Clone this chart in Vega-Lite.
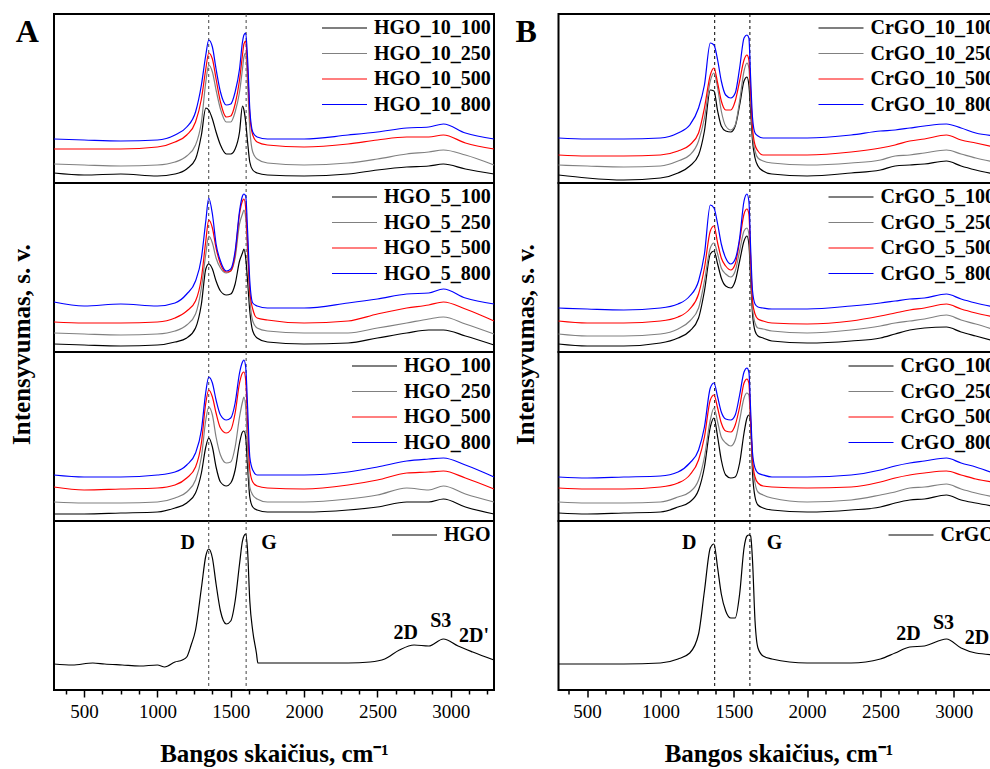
{
"$schema":"https://vega.github.io/schema/vega-lite/v6.json",
"autosize":{"type":"pad"},
"padding":{"left":8,"top":12,"right":0,"bottom":0},
"background":"white",
"config":{"font":"Liberation Serif","view":{"stroke":"#000","strokeWidth":2},
"line":{"interpolate":"monotone","strokeWidth":1.2},
"axis":{"grid":false,"labelFont":"Liberation Serif","titleFont":"Liberation Serif","labelColor":"#000","titleColor":"#000","tickColor":"#000","titleFontWeight":"bold"},
"legend":{"orient":"top-right","offset":3,"padding":0,"symbolType":"stroke","symbolSize":2025,"symbolStrokeWidth":1.5,"labelFont":"Liberation Serif","labelFontSize":20,"labelFontWeight":"bold","labelColor":"#000","clipHeight":22,"rowPadding":3.5,"labelOffset":6,"labelLimit":400}},
"datasets":{
"A1":[
{"s":"HGO_10_100","x":295,"y":10},{"s":"HGO_10_100","x":500,"y":8},{"s":"HGO_10_100","x":750,"y":9},{"s":"HGO_10_100","x":1000,"y":7},{"s":"HGO_10_100","x":1120,"y":9},{"s":"HGO_10_100","x":1200,"y":14},{"s":"HGO_10_100","x":1260,"y":24},{"s":"HGO_10_100","x":1300,"y":48},{"s":"HGO_10_100","x":1330,"y":75},{"s":"HGO_10_100","x":1350,"y":73},{"s":"HGO_10_100","x":1375,"y":64},{"s":"HGO_10_100","x":1400,"y":51},{"s":"HGO_10_100","x":1430,"y":38},{"s":"HGO_10_100","x":1470,"y":29},{"s":"HGO_10_100","x":1500,"y":29},{"s":"HGO_10_100","x":1530,"y":34},{"s":"HGO_10_100","x":1560,"y":51},{"s":"HGO_10_100","x":1580,"y":77},{"s":"HGO_10_100","x":1590,"y":73},{"s":"HGO_10_100","x":1602,"y":61},{"s":"HGO_10_100","x":1615,"y":41},{"s":"HGO_10_100","x":1630,"y":21},{"s":"HGO_10_100","x":1650,"y":13},{"s":"HGO_10_100","x":1680,"y":10},{"s":"HGO_10_100","x":1750,"y":8},{"s":"HGO_10_100","x":2000,"y":7},{"s":"HGO_10_100","x":2300,"y":9},{"s":"HGO_10_100","x":2500,"y":13},{"s":"HGO_10_100","x":2700,"y":16},{"s":"HGO_10_100","x":2850,"y":17},{"s":"HGO_10_100","x":2950,"y":19},{"s":"HGO_10_100","x":3100,"y":14},{"s":"HGO_10_100","x":3295,"y":9},
{"s":"HGO_10_250","x":295,"y":19},{"s":"HGO_10_250","x":500,"y":18},{"s":"HGO_10_250","x":750,"y":17},{"s":"HGO_10_250","x":1000,"y":18},{"s":"HGO_10_250","x":1120,"y":21},{"s":"HGO_10_250","x":1200,"y":27},{"s":"HGO_10_250","x":1260,"y":38},{"s":"HGO_10_250","x":1300,"y":61},{"s":"HGO_10_250","x":1330,"y":101},{"s":"HGO_10_250","x":1350,"y":118},{"s":"HGO_10_250","x":1375,"y":111},{"s":"HGO_10_250","x":1400,"y":93},{"s":"HGO_10_250","x":1430,"y":74},{"s":"HGO_10_250","x":1470,"y":61},{"s":"HGO_10_250","x":1500,"y":61},{"s":"HGO_10_250","x":1530,"y":71},{"s":"HGO_10_250","x":1560,"y":91},{"s":"HGO_10_250","x":1580,"y":114},{"s":"HGO_10_250","x":1590,"y":126},{"s":"HGO_10_250","x":1602,"y":130},{"s":"HGO_10_250","x":1615,"y":98},{"s":"HGO_10_250","x":1630,"y":54},{"s":"HGO_10_250","x":1650,"y":31},{"s":"HGO_10_250","x":1680,"y":24},{"s":"HGO_10_250","x":1750,"y":20},{"s":"HGO_10_250","x":2000,"y":18},{"s":"HGO_10_250","x":2300,"y":20},{"s":"HGO_10_250","x":2500,"y":24},{"s":"HGO_10_250","x":2700,"y":29},{"s":"HGO_10_250","x":2850,"y":31},{"s":"HGO_10_250","x":2950,"y":33},{"s":"HGO_10_250","x":3100,"y":28},{"s":"HGO_10_250","x":3295,"y":18},
{"s":"HGO_10_500","x":295,"y":34},{"s":"HGO_10_500","x":500,"y":34},{"s":"HGO_10_500","x":750,"y":34},{"s":"HGO_10_500","x":1000,"y":36},{"s":"HGO_10_500","x":1120,"y":41},{"s":"HGO_10_500","x":1200,"y":48},{"s":"HGO_10_500","x":1260,"y":61},{"s":"HGO_10_500","x":1300,"y":84},{"s":"HGO_10_500","x":1330,"y":114},{"s":"HGO_10_500","x":1350,"y":130},{"s":"HGO_10_500","x":1375,"y":124},{"s":"HGO_10_500","x":1400,"y":104},{"s":"HGO_10_500","x":1430,"y":81},{"s":"HGO_10_500","x":1470,"y":66},{"s":"HGO_10_500","x":1500,"y":67},{"s":"HGO_10_500","x":1530,"y":79},{"s":"HGO_10_500","x":1560,"y":103},{"s":"HGO_10_500","x":1580,"y":128},{"s":"HGO_10_500","x":1590,"y":139},{"s":"HGO_10_500","x":1602,"y":142},{"s":"HGO_10_500","x":1615,"y":114},{"s":"HGO_10_500","x":1630,"y":68},{"s":"HGO_10_500","x":1650,"y":48},{"s":"HGO_10_500","x":1680,"y":41},{"s":"HGO_10_500","x":1750,"y":38},{"s":"HGO_10_500","x":2000,"y":36},{"s":"HGO_10_500","x":2300,"y":39},{"s":"HGO_10_500","x":2500,"y":43},{"s":"HGO_10_500","x":2700,"y":46},{"s":"HGO_10_500","x":2850,"y":46},{"s":"HGO_10_500","x":2950,"y":48},{"s":"HGO_10_500","x":3100,"y":40},{"s":"HGO_10_500","x":3295,"y":34},
{"s":"HGO_10_800","x":295,"y":44},{"s":"HGO_10_800","x":500,"y":43},{"s":"HGO_10_800","x":750,"y":42},{"s":"HGO_10_800","x":1000,"y":43},{"s":"HGO_10_800","x":1120,"y":48},{"s":"HGO_10_800","x":1200,"y":56},{"s":"HGO_10_800","x":1260,"y":71},{"s":"HGO_10_800","x":1300,"y":98},{"s":"HGO_10_800","x":1330,"y":128},{"s":"HGO_10_800","x":1350,"y":143},{"s":"HGO_10_800","x":1375,"y":136},{"s":"HGO_10_800","x":1400,"y":114},{"s":"HGO_10_800","x":1430,"y":91},{"s":"HGO_10_800","x":1470,"y":78},{"s":"HGO_10_800","x":1500,"y":79},{"s":"HGO_10_800","x":1530,"y":91},{"s":"HGO_10_800","x":1560,"y":114},{"s":"HGO_10_800","x":1580,"y":141},{"s":"HGO_10_800","x":1590,"y":148},{"s":"HGO_10_800","x":1602,"y":150},{"s":"HGO_10_800","x":1615,"y":124},{"s":"HGO_10_800","x":1630,"y":74},{"s":"HGO_10_800","x":1650,"y":51},{"s":"HGO_10_800","x":1680,"y":46},{"s":"HGO_10_800","x":1750,"y":44},{"s":"HGO_10_800","x":2000,"y":44},{"s":"HGO_10_800","x":2300,"y":48},{"s":"HGO_10_800","x":2500,"y":51},{"s":"HGO_10_800","x":2700,"y":55},{"s":"HGO_10_800","x":2850,"y":56},{"s":"HGO_10_800","x":2950,"y":59},{"s":"HGO_10_800","x":3100,"y":50},{"s":"HGO_10_800","x":3295,"y":44}
],
"A2":[
{"s":"HGO_5_100","x":295,"y":8},{"s":"HGO_5_100","x":500,"y":7},{"s":"HGO_5_100","x":750,"y":6},{"s":"HGO_5_100","x":1000,"y":7},{"s":"HGO_5_100","x":1120,"y":10},{"s":"HGO_5_100","x":1200,"y":14},{"s":"HGO_5_100","x":1260,"y":24},{"s":"HGO_5_100","x":1300,"y":48},{"s":"HGO_5_100","x":1330,"y":83},{"s":"HGO_5_100","x":1350,"y":88},{"s":"HGO_5_100","x":1375,"y":83},{"s":"HGO_5_100","x":1400,"y":71},{"s":"HGO_5_100","x":1430,"y":61},{"s":"HGO_5_100","x":1470,"y":57},{"s":"HGO_5_100","x":1500,"y":58},{"s":"HGO_5_100","x":1530,"y":68},{"s":"HGO_5_100","x":1560,"y":91},{"s":"HGO_5_100","x":1580,"y":99},{"s":"HGO_5_100","x":1590,"y":103},{"s":"HGO_5_100","x":1602,"y":94},{"s":"HGO_5_100","x":1615,"y":71},{"s":"HGO_5_100","x":1630,"y":41},{"s":"HGO_5_100","x":1650,"y":21},{"s":"HGO_5_100","x":1680,"y":14},{"s":"HGO_5_100","x":1750,"y":10},{"s":"HGO_5_100","x":2000,"y":8},{"s":"HGO_5_100","x":2300,"y":9},{"s":"HGO_5_100","x":2500,"y":14},{"s":"HGO_5_100","x":2700,"y":19},{"s":"HGO_5_100","x":2850,"y":22},{"s":"HGO_5_100","x":2950,"y":22},{"s":"HGO_5_100","x":3100,"y":16},{"s":"HGO_5_100","x":3295,"y":7},
{"s":"HGO_5_250","x":295,"y":19},{"s":"HGO_5_250","x":500,"y":18},{"s":"HGO_5_250","x":750,"y":17},{"s":"HGO_5_250","x":1000,"y":18},{"s":"HGO_5_250","x":1120,"y":21},{"s":"HGO_5_250","x":1200,"y":27},{"s":"HGO_5_250","x":1260,"y":38},{"s":"HGO_5_250","x":1300,"y":64},{"s":"HGO_5_250","x":1330,"y":98},{"s":"HGO_5_250","x":1350,"y":116},{"s":"HGO_5_250","x":1375,"y":109},{"s":"HGO_5_250","x":1400,"y":94},{"s":"HGO_5_250","x":1430,"y":84},{"s":"HGO_5_250","x":1470,"y":79},{"s":"HGO_5_250","x":1500,"y":81},{"s":"HGO_5_250","x":1530,"y":94},{"s":"HGO_5_250","x":1560,"y":128},{"s":"HGO_5_250","x":1580,"y":138},{"s":"HGO_5_250","x":1590,"y":142},{"s":"HGO_5_250","x":1602,"y":134},{"s":"HGO_5_250","x":1615,"y":98},{"s":"HGO_5_250","x":1630,"y":54},{"s":"HGO_5_250","x":1650,"y":31},{"s":"HGO_5_250","x":1680,"y":24},{"s":"HGO_5_250","x":1750,"y":21},{"s":"HGO_5_250","x":2000,"y":19},{"s":"HGO_5_250","x":2300,"y":19},{"s":"HGO_5_250","x":2500,"y":24},{"s":"HGO_5_250","x":2700,"y":29},{"s":"HGO_5_250","x":2850,"y":33},{"s":"HGO_5_250","x":2950,"y":35},{"s":"HGO_5_250","x":3100,"y":28},{"s":"HGO_5_250","x":3295,"y":18},
{"s":"HGO_5_500","x":295,"y":30},{"s":"HGO_5_500","x":500,"y":29},{"s":"HGO_5_500","x":750,"y":29},{"s":"HGO_5_500","x":1000,"y":30},{"s":"HGO_5_500","x":1120,"y":34},{"s":"HGO_5_500","x":1200,"y":41},{"s":"HGO_5_500","x":1260,"y":51},{"s":"HGO_5_500","x":1300,"y":74},{"s":"HGO_5_500","x":1330,"y":111},{"s":"HGO_5_500","x":1350,"y":132},{"s":"HGO_5_500","x":1375,"y":124},{"s":"HGO_5_500","x":1400,"y":104},{"s":"HGO_5_500","x":1430,"y":88},{"s":"HGO_5_500","x":1470,"y":80},{"s":"HGO_5_500","x":1500,"y":81},{"s":"HGO_5_500","x":1530,"y":98},{"s":"HGO_5_500","x":1560,"y":138},{"s":"HGO_5_500","x":1580,"y":151},{"s":"HGO_5_500","x":1590,"y":153},{"s":"HGO_5_500","x":1602,"y":144},{"s":"HGO_5_500","x":1615,"y":108},{"s":"HGO_5_500","x":1630,"y":61},{"s":"HGO_5_500","x":1650,"y":43},{"s":"HGO_5_500","x":1680,"y":34},{"s":"HGO_5_500","x":1750,"y":32},{"s":"HGO_5_500","x":2000,"y":29},{"s":"HGO_5_500","x":2300,"y":31},{"s":"HGO_5_500","x":2500,"y":38},{"s":"HGO_5_500","x":2700,"y":44},{"s":"HGO_5_500","x":2850,"y":47},{"s":"HGO_5_500","x":2950,"y":50},{"s":"HGO_5_500","x":3100,"y":43},{"s":"HGO_5_500","x":3295,"y":31},
{"s":"HGO_5_800","x":295,"y":50},{"s":"HGO_5_800","x":500,"y":46},{"s":"HGO_5_800","x":750,"y":48},{"s":"HGO_5_800","x":1000,"y":46},{"s":"HGO_5_800","x":1120,"y":49},{"s":"HGO_5_800","x":1200,"y":58},{"s":"HGO_5_800","x":1260,"y":71},{"s":"HGO_5_800","x":1300,"y":94},{"s":"HGO_5_800","x":1330,"y":131},{"s":"HGO_5_800","x":1350,"y":154},{"s":"HGO_5_800","x":1375,"y":138},{"s":"HGO_5_800","x":1400,"y":108},{"s":"HGO_5_800","x":1430,"y":91},{"s":"HGO_5_800","x":1470,"y":81},{"s":"HGO_5_800","x":1500,"y":83},{"s":"HGO_5_800","x":1530,"y":101},{"s":"HGO_5_800","x":1560,"y":141},{"s":"HGO_5_800","x":1580,"y":156},{"s":"HGO_5_800","x":1590,"y":158},{"s":"HGO_5_800","x":1602,"y":156},{"s":"HGO_5_800","x":1615,"y":121},{"s":"HGO_5_800","x":1630,"y":71},{"s":"HGO_5_800","x":1650,"y":49},{"s":"HGO_5_800","x":1680,"y":46},{"s":"HGO_5_800","x":1750,"y":44},{"s":"HGO_5_800","x":2000,"y":44},{"s":"HGO_5_800","x":2300,"y":49},{"s":"HGO_5_800","x":2500,"y":53},{"s":"HGO_5_800","x":2700,"y":58},{"s":"HGO_5_800","x":2850,"y":59},{"s":"HGO_5_800","x":2950,"y":63},{"s":"HGO_5_800","x":3100,"y":54},{"s":"HGO_5_800","x":3295,"y":48}
],
"A3":[
{"s":"HGO_100","x":295,"y":7},{"s":"HGO_100","x":500,"y":7},{"s":"HGO_100","x":750,"y":8},{"s":"HGO_100","x":1000,"y":9},{"s":"HGO_100","x":1120,"y":13},{"s":"HGO_100","x":1200,"y":18},{"s":"HGO_100","x":1260,"y":28},{"s":"HGO_100","x":1300,"y":48},{"s":"HGO_100","x":1330,"y":74},{"s":"HGO_100","x":1350,"y":83},{"s":"HGO_100","x":1375,"y":74},{"s":"HGO_100","x":1400,"y":54},{"s":"HGO_100","x":1430,"y":39},{"s":"HGO_100","x":1470,"y":35},{"s":"HGO_100","x":1500,"y":38},{"s":"HGO_100","x":1530,"y":51},{"s":"HGO_100","x":1560,"y":78},{"s":"HGO_100","x":1580,"y":89},{"s":"HGO_100","x":1590,"y":90},{"s":"HGO_100","x":1602,"y":84},{"s":"HGO_100","x":1615,"y":54},{"s":"HGO_100","x":1630,"y":24},{"s":"HGO_100","x":1650,"y":14},{"s":"HGO_100","x":1680,"y":11},{"s":"HGO_100","x":1750,"y":9},{"s":"HGO_100","x":2000,"y":9},{"s":"HGO_100","x":2300,"y":11},{"s":"HGO_100","x":2500,"y":14},{"s":"HGO_100","x":2700,"y":19},{"s":"HGO_100","x":2850,"y":19},{"s":"HGO_100","x":2950,"y":22},{"s":"HGO_100","x":3100,"y":14},{"s":"HGO_100","x":3295,"y":7},
{"s":"HGO_250","x":295,"y":19},{"s":"HGO_250","x":500,"y":18},{"s":"HGO_250","x":750,"y":18},{"s":"HGO_250","x":1000,"y":19},{"s":"HGO_250","x":1120,"y":23},{"s":"HGO_250","x":1200,"y":29},{"s":"HGO_250","x":1260,"y":41},{"s":"HGO_250","x":1300,"y":64},{"s":"HGO_250","x":1330,"y":101},{"s":"HGO_250","x":1350,"y":114},{"s":"HGO_250","x":1375,"y":106},{"s":"HGO_250","x":1400,"y":84},{"s":"HGO_250","x":1430,"y":66},{"s":"HGO_250","x":1470,"y":58},{"s":"HGO_250","x":1500,"y":59},{"s":"HGO_250","x":1530,"y":74},{"s":"HGO_250","x":1560,"y":104},{"s":"HGO_250","x":1580,"y":119},{"s":"HGO_250","x":1590,"y":124},{"s":"HGO_250","x":1602,"y":114},{"s":"HGO_250","x":1615,"y":71},{"s":"HGO_250","x":1630,"y":34},{"s":"HGO_250","x":1650,"y":26},{"s":"HGO_250","x":1680,"y":22},{"s":"HGO_250","x":1750,"y":19},{"s":"HGO_250","x":2000,"y":19},{"s":"HGO_250","x":2300,"y":22},{"s":"HGO_250","x":2500,"y":26},{"s":"HGO_250","x":2700,"y":33},{"s":"HGO_250","x":2850,"y":31},{"s":"HGO_250","x":2950,"y":35},{"s":"HGO_250","x":3100,"y":27},{"s":"HGO_250","x":3295,"y":19},
{"s":"HGO_500","x":295,"y":34},{"s":"HGO_500","x":500,"y":31},{"s":"HGO_500","x":750,"y":32},{"s":"HGO_500","x":1000,"y":33},{"s":"HGO_500","x":1120,"y":36},{"s":"HGO_500","x":1200,"y":43},{"s":"HGO_500","x":1260,"y":54},{"s":"HGO_500","x":1300,"y":78},{"s":"HGO_500","x":1330,"y":118},{"s":"HGO_500","x":1350,"y":131},{"s":"HGO_500","x":1375,"y":124},{"s":"HGO_500","x":1400,"y":108},{"s":"HGO_500","x":1430,"y":93},{"s":"HGO_500","x":1470,"y":88},{"s":"HGO_500","x":1500,"y":91},{"s":"HGO_500","x":1530,"y":108},{"s":"HGO_500","x":1560,"y":138},{"s":"HGO_500","x":1580,"y":148},{"s":"HGO_500","x":1590,"y":149},{"s":"HGO_500","x":1602,"y":141},{"s":"HGO_500","x":1615,"y":98},{"s":"HGO_500","x":1630,"y":51},{"s":"HGO_500","x":1650,"y":39},{"s":"HGO_500","x":1680,"y":35},{"s":"HGO_500","x":1750,"y":33},{"s":"HGO_500","x":2000,"y":32},{"s":"HGO_500","x":2300,"y":36},{"s":"HGO_500","x":2500,"y":41},{"s":"HGO_500","x":2700,"y":48},{"s":"HGO_500","x":2850,"y":49},{"s":"HGO_500","x":2950,"y":50},{"s":"HGO_500","x":3100,"y":43},{"s":"HGO_500","x":3295,"y":32},
{"s":"HGO_800","x":295,"y":46},{"s":"HGO_800","x":500,"y":44},{"s":"HGO_800","x":750,"y":44},{"s":"HGO_800","x":1000,"y":46},{"s":"HGO_800","x":1120,"y":49},{"s":"HGO_800","x":1200,"y":56},{"s":"HGO_800","x":1260,"y":68},{"s":"HGO_800","x":1300,"y":91},{"s":"HGO_800","x":1330,"y":129},{"s":"HGO_800","x":1350,"y":144},{"s":"HGO_800","x":1375,"y":138},{"s":"HGO_800","x":1400,"y":121},{"s":"HGO_800","x":1430,"y":106},{"s":"HGO_800","x":1470,"y":101},{"s":"HGO_800","x":1500,"y":103},{"s":"HGO_800","x":1530,"y":118},{"s":"HGO_800","x":1560,"y":148},{"s":"HGO_800","x":1580,"y":159},{"s":"HGO_800","x":1590,"y":161},{"s":"HGO_800","x":1602,"y":154},{"s":"HGO_800","x":1615,"y":114},{"s":"HGO_800","x":1630,"y":64},{"s":"HGO_800","x":1650,"y":51},{"s":"HGO_800","x":1680,"y":46},{"s":"HGO_800","x":1750,"y":46},{"s":"HGO_800","x":2000,"y":46},{"s":"HGO_800","x":2300,"y":49},{"s":"HGO_800","x":2500,"y":54},{"s":"HGO_800","x":2700,"y":60},{"s":"HGO_800","x":2850,"y":62},{"s":"HGO_800","x":2950,"y":63},{"s":"HGO_800","x":3100,"y":56},{"s":"HGO_800","x":3295,"y":44}
],
"A4":[
{"s":"HGO","x":295,"y":26},{"s":"HGO","x":420,"y":25},{"s":"HGO","x":560,"y":27},{"s":"HGO","x":640,"y":26},{"s":"HGO","x":760,"y":25},{"s":"HGO","x":880,"y":24},{"s":"HGO","x":1000,"y":25},{"s":"HGO","x":1050,"y":23},{"s":"HGO","x":1120,"y":28},{"s":"HGO","x":1170,"y":30},{"s":"HGO","x":1200,"y":33},{"s":"HGO","x":1230,"y":45},{"s":"HGO","x":1260,"y":60},{"s":"HGO","x":1300,"y":102},{"s":"HGO","x":1330,"y":134},{"s":"HGO","x":1350,"y":141},{"s":"HGO","x":1375,"y":132},{"s":"HGO","x":1400,"y":106},{"s":"HGO","x":1430,"y":79},{"s":"HGO","x":1470,"y":66},{"s":"HGO","x":1500,"y":69},{"s":"HGO","x":1530,"y":89},{"s":"HGO","x":1560,"y":126},{"s":"HGO","x":1580,"y":149},{"s":"HGO","x":1590,"y":154},{"s":"HGO","x":1602,"y":156},{"s":"HGO","x":1615,"y":139},{"s":"HGO","x":1630,"y":89},{"s":"HGO","x":1650,"y":59},{"s":"HGO","x":1675,"y":37},{"s":"HGO","x":1685,"y":27},{"s":"HGO","x":1750,"y":27},{"s":"HGO","x":2000,"y":27},{"s":"HGO","x":2300,"y":27},{"s":"HGO","x":2450,"y":28},{"s":"HGO","x":2550,"y":31},{"s":"HGO","x":2650,"y":40},{"s":"HGO","x":2750,"y":45},{"s":"HGO","x":2850,"y":44},{"s":"HGO","x":2950,"y":51},{"s":"HGO","x":3050,"y":44},{"s":"HGO","x":3150,"y":38},{"s":"HGO","x":3295,"y":30}
],
"B1":[
{"s":"CrGO_10_100","x":305,"y":8},{"s":"CrGO_10_100","x":500,"y":5},{"s":"CrGO_10_100","x":750,"y":3},{"s":"CrGO_10_100","x":1000,"y":5},{"s":"CrGO_10_100","x":1120,"y":10},{"s":"CrGO_10_100","x":1200,"y":17},{"s":"CrGO_10_100","x":1260,"y":28},{"s":"CrGO_10_100","x":1300,"y":52},{"s":"CrGO_10_100","x":1340,"y":93},{"s":"CrGO_10_100","x":1365,"y":92},{"s":"CrGO_10_100","x":1390,"y":72},{"s":"CrGO_10_100","x":1415,"y":57},{"s":"CrGO_10_100","x":1445,"y":52},{"s":"CrGO_10_100","x":1480,"y":51},{"s":"CrGO_10_100","x":1510,"y":57},{"s":"CrGO_10_100","x":1540,"y":78},{"s":"CrGO_10_100","x":1570,"y":102},{"s":"CrGO_10_100","x":1590,"y":106},{"s":"CrGO_10_100","x":1603,"y":98},{"s":"CrGO_10_100","x":1615,"y":72},{"s":"CrGO_10_100","x":1628,"y":42},{"s":"CrGO_10_100","x":1645,"y":25},{"s":"CrGO_10_100","x":1665,"y":17},{"s":"CrGO_10_100","x":1700,"y":12},{"s":"CrGO_10_100","x":1760,"y":9},{"s":"CrGO_10_100","x":2000,"y":7},{"s":"CrGO_10_100","x":2300,"y":10},{"s":"CrGO_10_100","x":2500,"y":13},{"s":"CrGO_10_100","x":2600,"y":17},{"s":"CrGO_10_100","x":2700,"y":18},{"s":"CrGO_10_100","x":2800,"y":19},{"s":"CrGO_10_100","x":2950,"y":22},{"s":"CrGO_10_100","x":3050,"y":17},{"s":"CrGO_10_100","x":3150,"y":13},{"s":"CrGO_10_100","x":3305,"y":8},
{"s":"CrGO_10_250","x":305,"y":18},{"s":"CrGO_10_250","x":500,"y":17},{"s":"CrGO_10_250","x":750,"y":16},{"s":"CrGO_10_250","x":1000,"y":17},{"s":"CrGO_10_250","x":1120,"y":22},{"s":"CrGO_10_250","x":1200,"y":28},{"s":"CrGO_10_250","x":1260,"y":42},{"s":"CrGO_10_250","x":1300,"y":65},{"s":"CrGO_10_250","x":1340,"y":102},{"s":"CrGO_10_250","x":1365,"y":110},{"s":"CrGO_10_250","x":1390,"y":95},{"s":"CrGO_10_250","x":1415,"y":72},{"s":"CrGO_10_250","x":1445,"y":57},{"s":"CrGO_10_250","x":1480,"y":53},{"s":"CrGO_10_250","x":1510,"y":58},{"s":"CrGO_10_250","x":1540,"y":82},{"s":"CrGO_10_250","x":1570,"y":112},{"s":"CrGO_10_250","x":1590,"y":120},{"s":"CrGO_10_250","x":1603,"y":115},{"s":"CrGO_10_250","x":1615,"y":82},{"s":"CrGO_10_250","x":1628,"y":48},{"s":"CrGO_10_250","x":1645,"y":32},{"s":"CrGO_10_250","x":1665,"y":25},{"s":"CrGO_10_250","x":1700,"y":22},{"s":"CrGO_10_250","x":1760,"y":20},{"s":"CrGO_10_250","x":2000,"y":18},{"s":"CrGO_10_250","x":2300,"y":20},{"s":"CrGO_10_250","x":2500,"y":23},{"s":"CrGO_10_250","x":2600,"y":27},{"s":"CrGO_10_250","x":2700,"y":28},{"s":"CrGO_10_250","x":2800,"y":30},{"s":"CrGO_10_250","x":2950,"y":33},{"s":"CrGO_10_250","x":3050,"y":29},{"s":"CrGO_10_250","x":3150,"y":25},{"s":"CrGO_10_250","x":3305,"y":20},
{"s":"CrGO_10_500","x":305,"y":28},{"s":"CrGO_10_500","x":500,"y":27},{"s":"CrGO_10_500","x":750,"y":27},{"s":"CrGO_10_500","x":1000,"y":28},{"s":"CrGO_10_500","x":1120,"y":32},{"s":"CrGO_10_500","x":1200,"y":38},{"s":"CrGO_10_500","x":1260,"y":50},{"s":"CrGO_10_500","x":1300,"y":75},{"s":"CrGO_10_500","x":1340,"y":108},{"s":"CrGO_10_500","x":1365,"y":115},{"s":"CrGO_10_500","x":1390,"y":100},{"s":"CrGO_10_500","x":1415,"y":82},{"s":"CrGO_10_500","x":1445,"y":73},{"s":"CrGO_10_500","x":1480,"y":73},{"s":"CrGO_10_500","x":1510,"y":82},{"s":"CrGO_10_500","x":1540,"y":102},{"s":"CrGO_10_500","x":1570,"y":123},{"s":"CrGO_10_500","x":1590,"y":128},{"s":"CrGO_10_500","x":1603,"y":123},{"s":"CrGO_10_500","x":1615,"y":92},{"s":"CrGO_10_500","x":1628,"y":55},{"s":"CrGO_10_500","x":1645,"y":38},{"s":"CrGO_10_500","x":1665,"y":32},{"s":"CrGO_10_500","x":1700,"y":28},{"s":"CrGO_10_500","x":1760,"y":28},{"s":"CrGO_10_500","x":2000,"y":28},{"s":"CrGO_10_500","x":2300,"y":31},{"s":"CrGO_10_500","x":2500,"y":35},{"s":"CrGO_10_500","x":2600,"y":38},{"s":"CrGO_10_500","x":2700,"y":42},{"s":"CrGO_10_500","x":2800,"y":44},{"s":"CrGO_10_500","x":2950,"y":48},{"s":"CrGO_10_500","x":3050,"y":43},{"s":"CrGO_10_500","x":3150,"y":40},{"s":"CrGO_10_500","x":3305,"y":35},
{"s":"CrGO_10_800","x":305,"y":45},{"s":"CrGO_10_800","x":500,"y":44},{"s":"CrGO_10_800","x":750,"y":44},{"s":"CrGO_10_800","x":1000,"y":45},{"s":"CrGO_10_800","x":1120,"y":50},{"s":"CrGO_10_800","x":1200,"y":58},{"s":"CrGO_10_800","x":1260,"y":75},{"s":"CrGO_10_800","x":1300,"y":98},{"s":"CrGO_10_800","x":1340,"y":140},{"s":"CrGO_10_800","x":1365,"y":138},{"s":"CrGO_10_800","x":1390,"y":123},{"s":"CrGO_10_800","x":1415,"y":102},{"s":"CrGO_10_800","x":1445,"y":88},{"s":"CrGO_10_800","x":1480,"y":85},{"s":"CrGO_10_800","x":1510,"y":90},{"s":"CrGO_10_800","x":1540,"y":115},{"s":"CrGO_10_800","x":1570,"y":145},{"s":"CrGO_10_800","x":1590,"y":148},{"s":"CrGO_10_800","x":1603,"y":145},{"s":"CrGO_10_800","x":1615,"y":105},{"s":"CrGO_10_800","x":1628,"y":65},{"s":"CrGO_10_800","x":1645,"y":50},{"s":"CrGO_10_800","x":1665,"y":47},{"s":"CrGO_10_800","x":1700,"y":45},{"s":"CrGO_10_800","x":1760,"y":45},{"s":"CrGO_10_800","x":2000,"y":45},{"s":"CrGO_10_800","x":2300,"y":48},{"s":"CrGO_10_800","x":2500,"y":52},{"s":"CrGO_10_800","x":2600,"y":53},{"s":"CrGO_10_800","x":2700,"y":55},{"s":"CrGO_10_800","x":2800,"y":57},{"s":"CrGO_10_800","x":2950,"y":59},{"s":"CrGO_10_800","x":3050,"y":55},{"s":"CrGO_10_800","x":3150,"y":50},{"s":"CrGO_10_800","x":3305,"y":47}
],
"B2":[
{"s":"CrGO_5_100","x":305,"y":8},{"s":"CrGO_5_100","x":500,"y":6},{"s":"CrGO_5_100","x":750,"y":6},{"s":"CrGO_5_100","x":1000,"y":9},{"s":"CrGO_5_100","x":1120,"y":14},{"s":"CrGO_5_100","x":1200,"y":21},{"s":"CrGO_5_100","x":1260,"y":34},{"s":"CrGO_5_100","x":1300,"y":61},{"s":"CrGO_5_100","x":1340,"y":98},{"s":"CrGO_5_100","x":1365,"y":101},{"s":"CrGO_5_100","x":1390,"y":88},{"s":"CrGO_5_100","x":1415,"y":74},{"s":"CrGO_5_100","x":1445,"y":66},{"s":"CrGO_5_100","x":1480,"y":64},{"s":"CrGO_5_100","x":1510,"y":71},{"s":"CrGO_5_100","x":1540,"y":91},{"s":"CrGO_5_100","x":1570,"y":111},{"s":"CrGO_5_100","x":1590,"y":116},{"s":"CrGO_5_100","x":1603,"y":108},{"s":"CrGO_5_100","x":1615,"y":74},{"s":"CrGO_5_100","x":1628,"y":38},{"s":"CrGO_5_100","x":1645,"y":21},{"s":"CrGO_5_100","x":1665,"y":16},{"s":"CrGO_5_100","x":1700,"y":14},{"s":"CrGO_5_100","x":1760,"y":11},{"s":"CrGO_5_100","x":2000,"y":9},{"s":"CrGO_5_100","x":2300,"y":11},{"s":"CrGO_5_100","x":2500,"y":14},{"s":"CrGO_5_100","x":2600,"y":18},{"s":"CrGO_5_100","x":2700,"y":22},{"s":"CrGO_5_100","x":2800,"y":24},{"s":"CrGO_5_100","x":2950,"y":25},{"s":"CrGO_5_100","x":3050,"y":20},{"s":"CrGO_5_100","x":3150,"y":16},{"s":"CrGO_5_100","x":3305,"y":10},
{"s":"CrGO_5_250","x":305,"y":18},{"s":"CrGO_5_250","x":500,"y":16},{"s":"CrGO_5_250","x":750,"y":16},{"s":"CrGO_5_250","x":1000,"y":18},{"s":"CrGO_5_250","x":1120,"y":23},{"s":"CrGO_5_250","x":1200,"y":31},{"s":"CrGO_5_250","x":1260,"y":44},{"s":"CrGO_5_250","x":1300,"y":71},{"s":"CrGO_5_250","x":1340,"y":104},{"s":"CrGO_5_250","x":1365,"y":109},{"s":"CrGO_5_250","x":1390,"y":98},{"s":"CrGO_5_250","x":1415,"y":84},{"s":"CrGO_5_250","x":1445,"y":78},{"s":"CrGO_5_250","x":1480,"y":75},{"s":"CrGO_5_250","x":1510,"y":81},{"s":"CrGO_5_250","x":1540,"y":101},{"s":"CrGO_5_250","x":1570,"y":121},{"s":"CrGO_5_250","x":1590,"y":124},{"s":"CrGO_5_250","x":1603,"y":118},{"s":"CrGO_5_250","x":1615,"y":81},{"s":"CrGO_5_250","x":1628,"y":44},{"s":"CrGO_5_250","x":1645,"y":29},{"s":"CrGO_5_250","x":1665,"y":24},{"s":"CrGO_5_250","x":1700,"y":23},{"s":"CrGO_5_250","x":1760,"y":21},{"s":"CrGO_5_250","x":2000,"y":19},{"s":"CrGO_5_250","x":2300,"y":22},{"s":"CrGO_5_250","x":2500,"y":26},{"s":"CrGO_5_250","x":2600,"y":29},{"s":"CrGO_5_250","x":2700,"y":31},{"s":"CrGO_5_250","x":2800,"y":33},{"s":"CrGO_5_250","x":2950,"y":37},{"s":"CrGO_5_250","x":3050,"y":32},{"s":"CrGO_5_250","x":3150,"y":28},{"s":"CrGO_5_250","x":3305,"y":21},
{"s":"CrGO_5_500","x":305,"y":31},{"s":"CrGO_5_500","x":500,"y":29},{"s":"CrGO_5_500","x":750,"y":29},{"s":"CrGO_5_500","x":1000,"y":31},{"s":"CrGO_5_500","x":1120,"y":35},{"s":"CrGO_5_500","x":1200,"y":43},{"s":"CrGO_5_500","x":1260,"y":58},{"s":"CrGO_5_500","x":1300,"y":84},{"s":"CrGO_5_500","x":1340,"y":121},{"s":"CrGO_5_500","x":1365,"y":126},{"s":"CrGO_5_500","x":1390,"y":109},{"s":"CrGO_5_500","x":1415,"y":94},{"s":"CrGO_5_500","x":1445,"y":86},{"s":"CrGO_5_500","x":1480,"y":82},{"s":"CrGO_5_500","x":1510,"y":88},{"s":"CrGO_5_500","x":1540,"y":111},{"s":"CrGO_5_500","x":1570,"y":138},{"s":"CrGO_5_500","x":1590,"y":143},{"s":"CrGO_5_500","x":1603,"y":138},{"s":"CrGO_5_500","x":1615,"y":94},{"s":"CrGO_5_500","x":1628,"y":51},{"s":"CrGO_5_500","x":1645,"y":38},{"s":"CrGO_5_500","x":1665,"y":33},{"s":"CrGO_5_500","x":1700,"y":31},{"s":"CrGO_5_500","x":1760,"y":29},{"s":"CrGO_5_500","x":2000,"y":28},{"s":"CrGO_5_500","x":2300,"y":31},{"s":"CrGO_5_500","x":2500,"y":36},{"s":"CrGO_5_500","x":2600,"y":39},{"s":"CrGO_5_500","x":2700,"y":42},{"s":"CrGO_5_500","x":2800,"y":44},{"s":"CrGO_5_500","x":2950,"y":48},{"s":"CrGO_5_500","x":3050,"y":43},{"s":"CrGO_5_500","x":3150,"y":39},{"s":"CrGO_5_500","x":3305,"y":34},
{"s":"CrGO_5_800","x":305,"y":44},{"s":"CrGO_5_800","x":500,"y":43},{"s":"CrGO_5_800","x":750,"y":42},{"s":"CrGO_5_800","x":1000,"y":44},{"s":"CrGO_5_800","x":1120,"y":48},{"s":"CrGO_5_800","x":1200,"y":56},{"s":"CrGO_5_800","x":1260,"y":71},{"s":"CrGO_5_800","x":1300,"y":98},{"s":"CrGO_5_800","x":1340,"y":147},{"s":"CrGO_5_800","x":1365,"y":144},{"s":"CrGO_5_800","x":1390,"y":128},{"s":"CrGO_5_800","x":1415,"y":108},{"s":"CrGO_5_800","x":1445,"y":94},{"s":"CrGO_5_800","x":1480,"y":88},{"s":"CrGO_5_800","x":1510,"y":93},{"s":"CrGO_5_800","x":1540,"y":114},{"s":"CrGO_5_800","x":1570,"y":151},{"s":"CrGO_5_800","x":1590,"y":158},{"s":"CrGO_5_800","x":1603,"y":151},{"s":"CrGO_5_800","x":1615,"y":104},{"s":"CrGO_5_800","x":1628,"y":61},{"s":"CrGO_5_800","x":1645,"y":48},{"s":"CrGO_5_800","x":1665,"y":45},{"s":"CrGO_5_800","x":1700,"y":44},{"s":"CrGO_5_800","x":1760,"y":43},{"s":"CrGO_5_800","x":2000,"y":43},{"s":"CrGO_5_800","x":2300,"y":46},{"s":"CrGO_5_800","x":2500,"y":49},{"s":"CrGO_5_800","x":2600,"y":51},{"s":"CrGO_5_800","x":2700,"y":53},{"s":"CrGO_5_800","x":2800,"y":54},{"s":"CrGO_5_800","x":2950,"y":58},{"s":"CrGO_5_800","x":3050,"y":53},{"s":"CrGO_5_800","x":3150,"y":49},{"s":"CrGO_5_800","x":3305,"y":44}
],
"B3":[
{"s":"CrGO_100","x":305,"y":8},{"s":"CrGO_100","x":500,"y":7},{"s":"CrGO_100","x":750,"y":8},{"s":"CrGO_100","x":1000,"y":9},{"s":"CrGO_100","x":1120,"y":14},{"s":"CrGO_100","x":1200,"y":19},{"s":"CrGO_100","x":1260,"y":31},{"s":"CrGO_100","x":1300,"y":54},{"s":"CrGO_100","x":1340,"y":94},{"s":"CrGO_100","x":1365,"y":103},{"s":"CrGO_100","x":1390,"y":84},{"s":"CrGO_100","x":1415,"y":61},{"s":"CrGO_100","x":1445,"y":46},{"s":"CrGO_100","x":1480,"y":43},{"s":"CrGO_100","x":1510,"y":44},{"s":"CrGO_100","x":1540,"y":58},{"s":"CrGO_100","x":1570,"y":88},{"s":"CrGO_100","x":1590,"y":103},{"s":"CrGO_100","x":1603,"y":106},{"s":"CrGO_100","x":1615,"y":98},{"s":"CrGO_100","x":1628,"y":48},{"s":"CrGO_100","x":1645,"y":24},{"s":"CrGO_100","x":1665,"y":16},{"s":"CrGO_100","x":1700,"y":13},{"s":"CrGO_100","x":1760,"y":11},{"s":"CrGO_100","x":2000,"y":9},{"s":"CrGO_100","x":2300,"y":11},{"s":"CrGO_100","x":2500,"y":14},{"s":"CrGO_100","x":2600,"y":18},{"s":"CrGO_100","x":2700,"y":21},{"s":"CrGO_100","x":2800,"y":22},{"s":"CrGO_100","x":2950,"y":26},{"s":"CrGO_100","x":3050,"y":21},{"s":"CrGO_100","x":3150,"y":18},{"s":"CrGO_100","x":3305,"y":14},
{"s":"CrGO_250","x":305,"y":19},{"s":"CrGO_250","x":500,"y":18},{"s":"CrGO_250","x":750,"y":18},{"s":"CrGO_250","x":1000,"y":19},{"s":"CrGO_250","x":1120,"y":24},{"s":"CrGO_250","x":1200,"y":29},{"s":"CrGO_250","x":1260,"y":41},{"s":"CrGO_250","x":1300,"y":64},{"s":"CrGO_250","x":1340,"y":101},{"s":"CrGO_250","x":1365,"y":113},{"s":"CrGO_250","x":1390,"y":99},{"s":"CrGO_250","x":1415,"y":84},{"s":"CrGO_250","x":1445,"y":78},{"s":"CrGO_250","x":1480,"y":75},{"s":"CrGO_250","x":1510,"y":81},{"s":"CrGO_250","x":1540,"y":101},{"s":"CrGO_250","x":1570,"y":123},{"s":"CrGO_250","x":1590,"y":128},{"s":"CrGO_250","x":1603,"y":126},{"s":"CrGO_250","x":1615,"y":98},{"s":"CrGO_250","x":1628,"y":58},{"s":"CrGO_250","x":1645,"y":38},{"s":"CrGO_250","x":1665,"y":29},{"s":"CrGO_250","x":1700,"y":26},{"s":"CrGO_250","x":1760,"y":23},{"s":"CrGO_250","x":2000,"y":19},{"s":"CrGO_250","x":2300,"y":21},{"s":"CrGO_250","x":2500,"y":26},{"s":"CrGO_250","x":2600,"y":29},{"s":"CrGO_250","x":2700,"y":33},{"s":"CrGO_250","x":2800,"y":34},{"s":"CrGO_250","x":2950,"y":37},{"s":"CrGO_250","x":3050,"y":32},{"s":"CrGO_250","x":3150,"y":28},{"s":"CrGO_250","x":3305,"y":23},
{"s":"CrGO_500","x":305,"y":33},{"s":"CrGO_500","x":500,"y":32},{"s":"CrGO_500","x":750,"y":32},{"s":"CrGO_500","x":1000,"y":34},{"s":"CrGO_500","x":1120,"y":38},{"s":"CrGO_500","x":1200,"y":46},{"s":"CrGO_500","x":1260,"y":61},{"s":"CrGO_500","x":1300,"y":84},{"s":"CrGO_500","x":1340,"y":121},{"s":"CrGO_500","x":1365,"y":126},{"s":"CrGO_500","x":1390,"y":113},{"s":"CrGO_500","x":1415,"y":98},{"s":"CrGO_500","x":1445,"y":90},{"s":"CrGO_500","x":1480,"y":89},{"s":"CrGO_500","x":1510,"y":96},{"s":"CrGO_500","x":1540,"y":114},{"s":"CrGO_500","x":1570,"y":138},{"s":"CrGO_500","x":1590,"y":142},{"s":"CrGO_500","x":1603,"y":138},{"s":"CrGO_500","x":1615,"y":101},{"s":"CrGO_500","x":1628,"y":61},{"s":"CrGO_500","x":1645,"y":44},{"s":"CrGO_500","x":1665,"y":38},{"s":"CrGO_500","x":1700,"y":35},{"s":"CrGO_500","x":1760,"y":34},{"s":"CrGO_500","x":2000,"y":33},{"s":"CrGO_500","x":2300,"y":34},{"s":"CrGO_500","x":2500,"y":39},{"s":"CrGO_500","x":2600,"y":43},{"s":"CrGO_500","x":2700,"y":46},{"s":"CrGO_500","x":2800,"y":48},{"s":"CrGO_500","x":2950,"y":50},{"s":"CrGO_500","x":3050,"y":46},{"s":"CrGO_500","x":3150,"y":42},{"s":"CrGO_500","x":3305,"y":38},
{"s":"CrGO_800","x":305,"y":44},{"s":"CrGO_800","x":500,"y":43},{"s":"CrGO_800","x":750,"y":44},{"s":"CrGO_800","x":1000,"y":45},{"s":"CrGO_800","x":1120,"y":49},{"s":"CrGO_800","x":1200,"y":58},{"s":"CrGO_800","x":1260,"y":71},{"s":"CrGO_800","x":1300,"y":94},{"s":"CrGO_800","x":1340,"y":133},{"s":"CrGO_800","x":1365,"y":138},{"s":"CrGO_800","x":1390,"y":124},{"s":"CrGO_800","x":1415,"y":109},{"s":"CrGO_800","x":1445,"y":102},{"s":"CrGO_800","x":1480,"y":101},{"s":"CrGO_800","x":1510,"y":106},{"s":"CrGO_800","x":1540,"y":126},{"s":"CrGO_800","x":1570,"y":149},{"s":"CrGO_800","x":1590,"y":153},{"s":"CrGO_800","x":1603,"y":149},{"s":"CrGO_800","x":1615,"y":111},{"s":"CrGO_800","x":1628,"y":68},{"s":"CrGO_800","x":1645,"y":53},{"s":"CrGO_800","x":1665,"y":48},{"s":"CrGO_800","x":1700,"y":46},{"s":"CrGO_800","x":1760,"y":44},{"s":"CrGO_800","x":2000,"y":44},{"s":"CrGO_800","x":2300,"y":46},{"s":"CrGO_800","x":2500,"y":51},{"s":"CrGO_800","x":2600,"y":55},{"s":"CrGO_800","x":2700,"y":58},{"s":"CrGO_800","x":2800,"y":60},{"s":"CrGO_800","x":2950,"y":63},{"s":"CrGO_800","x":3050,"y":58},{"s":"CrGO_800","x":3150,"y":54},{"s":"CrGO_800","x":3305,"y":46}
],
"B4":[
{"s":"CrGO","x":305,"y":26},{"s":"CrGO","x":500,"y":26},{"s":"CrGO","x":750,"y":26},{"s":"CrGO","x":1000,"y":27},{"s":"CrGO","x":1120,"y":31},{"s":"CrGO","x":1200,"y":37},{"s":"CrGO","x":1260,"y":56},{"s":"CrGO","x":1300,"y":99},{"s":"CrGO","x":1340,"y":142},{"s":"CrGO","x":1365,"y":146},{"s":"CrGO","x":1390,"y":122},{"s":"CrGO","x":1415,"y":96},{"s":"CrGO","x":1445,"y":79},{"s":"CrGO","x":1480,"y":72},{"s":"CrGO","x":1510,"y":72},{"s":"CrGO","x":1540,"y":96},{"s":"CrGO","x":1570,"y":142},{"s":"CrGO","x":1590,"y":154},{"s":"CrGO","x":1603,"y":155},{"s":"CrGO","x":1615,"y":154},{"s":"CrGO","x":1628,"y":129},{"s":"CrGO","x":1645,"y":69},{"s":"CrGO","x":1665,"y":42},{"s":"CrGO","x":1700,"y":34},{"s":"CrGO","x":1760,"y":31},{"s":"CrGO","x":2000,"y":27},{"s":"CrGO","x":2300,"y":27},{"s":"CrGO","x":2500,"y":31},{"s":"CrGO","x":2600,"y":37},{"s":"CrGO","x":2700,"y":43},{"s":"CrGO","x":2800,"y":44},{"s":"CrGO","x":2950,"y":51},{"s":"CrGO","x":3050,"y":42},{"s":"CrGO","x":3150,"y":37},{"s":"CrGO","x":3305,"y":35}
]
},
"hconcat":[
{"vconcat":[
{"width":440,"height":169,
"layer":[
{"data":{"values":[{"x":1350},{"x":1605}]},"mark":{"type":"rule","strokeDash":[3,3],"color":"#444","strokeWidth":1},"encoding":{"x":{"field":"x","type":"quantitative","scale":{"domain":[295,3295],"nice":false},"axis":null}}},
{"data":{"name":"A1"},"mark":{"type":"line"},"encoding":{"x":{"field":"x","type":"quantitative","scale":{"domain":[295,3295],"nice":false},"axis":null},"y":{"field":"y","type":"quantitative","scale":{"domain":[0,169],"nice":false,"zero":false},"axis":null},"color":{"field":"s","type":"nominal","scale":{"domain":["HGO_10_100","HGO_10_250","HGO_10_500","HGO_10_800"],"range":["#000000","#808080","#ff0000","#0000ff"]},"title":null}}},
{"data":{"values":[{"t":"A","x":34,"y":141}]},"mark":{"type":"text","fontSize":32,"fontWeight":"bold","font":"Liberation Serif","color":"#000","baseline":"alphabetic","align":"left"},"encoding":{"x":{"field":"x","type":"quantitative","scale":{"domain":[295,3295],"nice":false},"axis":null},"y":{"field":"y","type":"quantitative","scale":{"domain":[0,169],"nice":false,"zero":false},"axis":null},"text":{"field":"t"}}}
]},
{"width":440,"height":169,
"layer":[
{"data":{"values":[{"x":1350},{"x":1605}]},"mark":{"type":"rule","strokeDash":[3,3],"color":"#444","strokeWidth":1},"encoding":{"x":{"field":"x","type":"quantitative","scale":{"domain":[295,3295],"nice":false},"axis":null}}},
{"data":{"name":"A2"},"mark":{"type":"line"},"encoding":{"x":{"field":"x","type":"quantitative","scale":{"domain":[295,3295],"nice":false},"axis":null},"y":{"field":"y","type":"quantitative","scale":{"domain":[0,169],"nice":false,"zero":false},"axis":{"title":"Intensyvumas, s. v.","labels":false,"ticks":false,"domain":false,"grid":false,"titleX":-33,"titleY":161,"titleAngle":270,"titleBaseline":"middle","titleAlign":"center","titleFontSize":25}},"color":{"field":"s","type":"nominal","scale":{"domain":["HGO_5_100","HGO_5_250","HGO_5_500","HGO_5_800"],"range":["#000000","#808080","#ff0000","#0000ff"]},"title":null}}}
]},
{"width":440,"height":169,
"layer":[
{"data":{"values":[{"x":1350},{"x":1605}]},"mark":{"type":"rule","strokeDash":[3,3],"color":"#444","strokeWidth":1},"encoding":{"x":{"field":"x","type":"quantitative","scale":{"domain":[295,3295],"nice":false},"axis":null}}},
{"data":{"name":"A3"},"mark":{"type":"line"},"encoding":{"x":{"field":"x","type":"quantitative","scale":{"domain":[295,3295],"nice":false},"axis":null},"y":{"field":"y","type":"quantitative","scale":{"domain":[0,169],"nice":false,"zero":false},"axis":null},"color":{"field":"s","type":"nominal","scale":{"domain":["HGO_100","HGO_250","HGO_500","HGO_800"],"range":["#000000","#808080","#ff0000","#0000ff"]},"title":null}}}
]},
{"width":440,"height":169,
"layer":[
{"data":{"values":[{"x":1350},{"x":1605}]},"mark":{"type":"rule","strokeDash":[3,3],"color":"#444","strokeWidth":1},"encoding":{"x":{"field":"x","type":"quantitative","scale":{"domain":[295,3295],"nice":false},"axis":{"orient":"bottom","values":[375,625,750,875,1125,1250,1375,1625,1750,1875,2125,2250,2375,2625,2750,2875,3125,3250],"tickSize":4,"tickWidth":1.5,"labels":false,"domain":false,"title":null,"grid":false}}}},
{"data":{"name":"A4"},"mark":{"type":"line"},"encoding":{"x":{"field":"x","type":"quantitative","scale":{"domain":[295,3295],"nice":false},"axis":{"orient":"bottom","values":[500,1000,1500,2000,2500,3000],"format":"d","tickSize":7,"tickWidth":1.5,"domain":false,"grid":false,"labelFontSize":19,"labelPadding":5,"title":"Bangos skaičius, cm⁻¹","titleFontSize":25,"titlePadding":20}},"y":{"field":"y","type":"quantitative","scale":{"domain":[0,169],"nice":false,"zero":false},"axis":null},"color":{"field":"s","type":"nominal","scale":{"domain":["HGO"],"range":["#000000"]},"title":null}}},
{"data":{"values":[{"t":"D","x":1207,"y":147},{"t":"G","x":1761,"y":147},{"t":"2D","x":2693,"y":57},{"t":"S3","x":2932,"y":69},{"t":"2D'","x":3159,"y":54}]},"mark":{"type":"text","fontSize":20,"fontWeight":"bold","font":"Liberation Serif","color":"#000","baseline":"middle","align":"center"},"encoding":{"x":{"field":"x","type":"quantitative","scale":{"domain":[295,3295],"nice":false},"axis":null},"y":{"field":"y","type":"quantitative","scale":{"domain":[0,169],"nice":false,"zero":false},"axis":null},"text":{"field":"t"}}}
],
"resolve":{"axis":{"x":"independent"}}}
],"spacing":0,"bounds":"flush","resolve":{"scale":{"color":"independent"},"legend":{"color":"independent"}}},
{"vconcat":[
{"width":440,"height":169,
"layer":[
{"data":{"values":[{"x":1370},{"x":1610}]},"mark":{"type":"rule","strokeDash":[3,3],"color":"#000","strokeWidth":1},"encoding":{"x":{"field":"x","type":"quantitative","scale":{"domain":[305,3305],"nice":false},"axis":null}}},
{"data":{"name":"B1"},"mark":{"type":"line"},"encoding":{"x":{"field":"x","type":"quantitative","scale":{"domain":[305,3305],"nice":false},"axis":null},"y":{"field":"y","type":"quantitative","scale":{"domain":[0,169],"nice":false,"zero":false},"axis":null},"color":{"field":"s","type":"nominal","scale":{"domain":["CrGO_10_100","CrGO_10_250","CrGO_10_500","CrGO_10_800"],"range":["#000000","#808080","#ff0000","#0000ff"]},"title":null}}},
{"data":{"values":[{"t":"B","x":12,"y":141}]},"mark":{"type":"text","fontSize":32,"fontWeight":"bold","font":"Liberation Serif","color":"#000","baseline":"alphabetic","align":"left"},"encoding":{"x":{"field":"x","type":"quantitative","scale":{"domain":[305,3305],"nice":false},"axis":null},"y":{"field":"y","type":"quantitative","scale":{"domain":[0,169],"nice":false,"zero":false},"axis":null},"text":{"field":"t"}}}
]},
{"width":440,"height":169,
"layer":[
{"data":{"values":[{"x":1370},{"x":1610}]},"mark":{"type":"rule","strokeDash":[3,3],"color":"#000","strokeWidth":1},"encoding":{"x":{"field":"x","type":"quantitative","scale":{"domain":[305,3305],"nice":false},"axis":null}}},
{"data":{"name":"B2"},"mark":{"type":"line"},"encoding":{"x":{"field":"x","type":"quantitative","scale":{"domain":[305,3305],"nice":false},"axis":null},"y":{"field":"y","type":"quantitative","scale":{"domain":[0,169],"nice":false,"zero":false},"axis":{"title":"Intensyvumas, s. v.","labels":false,"ticks":false,"domain":false,"grid":false,"titleX":-33,"titleY":161,"titleAngle":270,"titleBaseline":"middle","titleAlign":"center","titleFontSize":25}},"color":{"field":"s","type":"nominal","scale":{"domain":["CrGO_5_100","CrGO_5_250","CrGO_5_500","CrGO_5_800"],"range":["#000000","#808080","#ff0000","#0000ff"]},"title":null}}}
]},
{"width":440,"height":169,
"layer":[
{"data":{"values":[{"x":1370},{"x":1610}]},"mark":{"type":"rule","strokeDash":[3,3],"color":"#000","strokeWidth":1},"encoding":{"x":{"field":"x","type":"quantitative","scale":{"domain":[305,3305],"nice":false},"axis":null}}},
{"data":{"name":"B3"},"mark":{"type":"line"},"encoding":{"x":{"field":"x","type":"quantitative","scale":{"domain":[305,3305],"nice":false},"axis":null},"y":{"field":"y","type":"quantitative","scale":{"domain":[0,169],"nice":false,"zero":false},"axis":null},"color":{"field":"s","type":"nominal","scale":{"domain":["CrGO_100","CrGO_250","CrGO_500","CrGO_800"],"range":["#000000","#808080","#ff0000","#0000ff"]},"title":null}}}
]},
{"width":440,"height":169,
"layer":[
{"data":{"values":[{"x":1370},{"x":1610}]},"mark":{"type":"rule","strokeDash":[3,3],"color":"#000","strokeWidth":1},"encoding":{"x":{"field":"x","type":"quantitative","scale":{"domain":[305,3305],"nice":false},"axis":{"orient":"bottom","values":[375,625,750,875,1125,1250,1375,1625,1750,1875,2125,2250,2375,2625,2750,2875,3125,3250],"tickSize":4,"tickWidth":1.5,"labels":false,"domain":false,"title":null,"grid":false}}}},
{"data":{"name":"B4"},"mark":{"type":"line"},"encoding":{"x":{"field":"x","type":"quantitative","scale":{"domain":[305,3305],"nice":false},"axis":{"orient":"bottom","values":[500,1000,1500,2000,2500,3000],"format":"d","tickSize":7,"tickWidth":1.5,"domain":false,"grid":false,"labelFontSize":19,"labelPadding":5,"title":"Bangos skaičius, cm⁻¹","titleFontSize":25,"titlePadding":20}},"y":{"field":"y","type":"quantitative","scale":{"domain":[0,169],"nice":false,"zero":false},"axis":null},"color":{"field":"s","type":"nominal","scale":{"domain":["CrGO"],"range":["#000000"]},"title":null}}},
{"data":{"values":[{"t":"D","x":1196,"y":147},{"t":"G","x":1778,"y":147},{"t":"2D","x":2691,"y":56},{"t":"S3","x":2930,"y":67},{"t":"2D'","x":3178,"y":52}]},"mark":{"type":"text","fontSize":20,"fontWeight":"bold","font":"Liberation Serif","color":"#000","baseline":"middle","align":"center"},"encoding":{"x":{"field":"x","type":"quantitative","scale":{"domain":[305,3305],"nice":false},"axis":null},"y":{"field":"y","type":"quantitative","scale":{"domain":[0,169],"nice":false,"zero":false},"axis":null},"text":{"field":"t"}}}
],
"resolve":{"axis":{"x":"independent"}}}
],"spacing":0,"bounds":"flush","resolve":{"scale":{"color":"independent"},"legend":{"color":"independent"}}}
],
"spacing":14.5,
"bounds":"full"
}
